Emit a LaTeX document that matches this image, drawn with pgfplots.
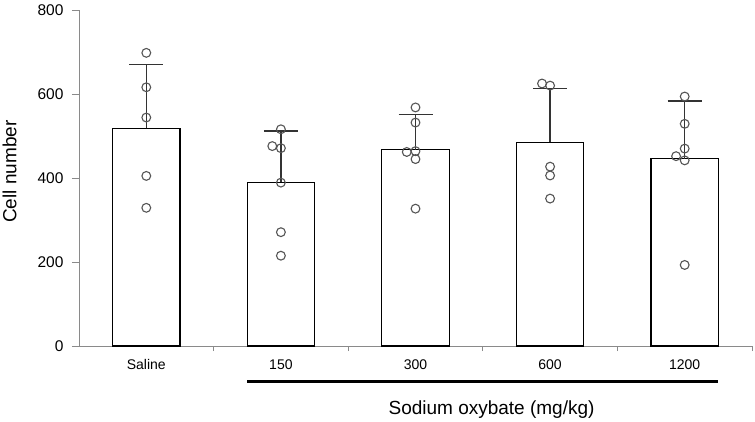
\documentclass[border=0pt]{standalone}
\usepackage{pgfplots}
\pgfplotsset{compat=1.18}
\usepackage{fontspec}
\setmainfont{Liberation Sans}

\definecolor{axisgray}{HTML}{8A8A8A}
\definecolor{dotgray}{HTML}{555555}
\definecolor{errgray}{HTML}{333333}

\begin{document}
\begin{tikzpicture}
% page = 755 x 421, origin at the axis corner
\useasboundingbox (-79pt,-75pt) rectangle (676pt,346pt);
\begin{axis}[
    at={(0pt,0pt)}, anchor=south west,
    scale only axis,
    width=673pt, height=336pt,
    xmin=-0.5, xmax=4.5,
    ymin=0, ymax=800,
    axis x line=bottom, axis y line=left,
    axis line style={axisgray, line width=0.9pt, -},
    tick style={axisgray, line width=0.9pt},
    tick align=outside,
    xtick={0,1,2,3,4},
    xticklabels={Saline,150,300,600,1200},
    major x tick style={draw=none},
    minor xtick={0.5,1.5,2.5,3.5,4.5},
    minor tick length=5pt,
    ytick={0,200,400,600,800},
    major tick length=7pt,
    xticklabel style={font=\fontsize{14}{16}\selectfont, yshift=-3pt},
    yticklabel style={font=\fontsize{15.5}{18}\selectfont, xshift=-5pt},
    /pgf/number format/assume math mode=true,
    ylabel={Cell number},
    ylabel style={font=\fontsize{19}{22}\selectfont, at={(axis description cs:-0.103,0.519)}, anchor=center},
    xlabel={Sodium oxybate (mg/kg)},
    xlabel style={font=\fontsize{19}{22}\selectfont, at={(axis description cs:0.613,-0.19)}, anchor=center},
    clip=false,
]
% bar means with upward SD
\addplot[ybar, bar width=67.3pt, fill=white, draw=black, line width=1.2pt,
    error bars/.cd, y dir=plus, y explicit,
    error mark=|,
    error bar style={errgray, line width=1.5pt},
    error mark options={errgray, line width=1.5pt, mark size=17pt}]
  coordinates {
    (0,518) +- (0,152)
    (1,390) +- (0,122)
    (2,467) +- (0,84)
    (3,485) +- (0,128)
    (4,446) +- (0,137)
  };
% individual animals
\addplot[only marks, mark=o, mark size=4.4pt, mark options={dotgray, line width=1.1pt}]
  coordinates {
    (0,698) (0,616) (0,544) (0,405) (0,329)
    (1,516) (0.936,476) (1,471) (1,389) (1,271) (1,215)
    (2,568) (2,532) (2,464) (1.935,462) (2,445) (2,327)
    (2.94,625) (3,620) (3,427) (3,406) (3,351)
    (4,594) (4,529) (4,470) (3.936,452) (4,442) (4,193)
  };
\draw[black, line width=3pt] ([yshift=-35.7pt]axis cs:0.75,0) -- ([yshift=-35.7pt]axis cs:4.25,0);
\end{axis}
\end{tikzpicture}
\end{document}
